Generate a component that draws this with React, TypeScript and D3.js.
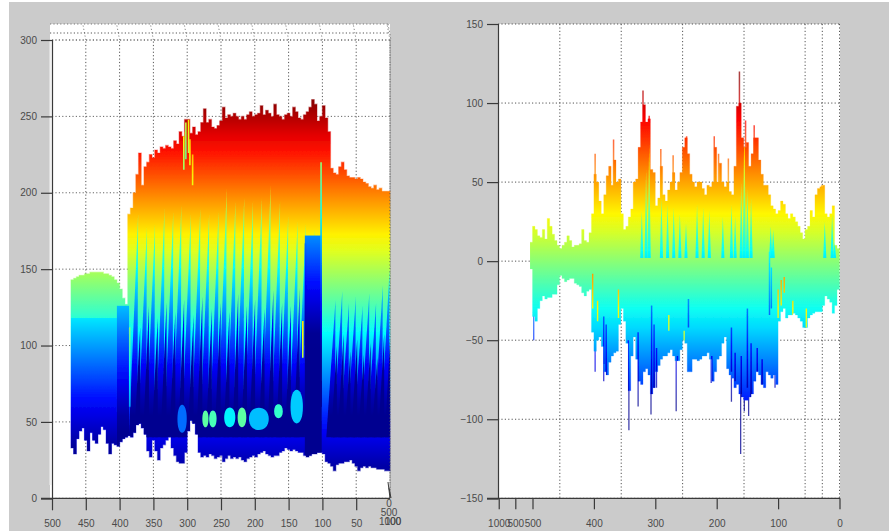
import React, { useEffect, useRef } from "react";
import * as d3 from "d3";

// left panel: envelope of the waterfall, one value every 4 x units from 472 down to 0
const leftX = d3.range(472, -1, -4);
const leftTop = [143,144,145,146,146,147,147,148,148,148,148,148,147,147,146,145,143,141,137,131,127,
  186,190,200,212,226,205,217,220,225,223,228,226,230,229,231,230,229,234,232,240,237,248,248,239,243,238,240,246,255,246,248,243,242,244,247,256,249,251,250,252,250,248,250,248,251,253,250,251,252,257,251,254,252,250,258,251,250,248,251,252,250,256,253,249,248,251,253,256,261,258,247,250,257,249,240,216,213,212,217,220,215,211,210,210,209,210,209,207,206,204,203,205,202,203,201,201,201,200];
const leftBottom = [33,29,39,44,46,38,31,43,38,36,42,47,45,36,29,36,35,34,37,39,40,41,40,43,48,49,46,42,31,27,38,31,25,33,35,38,40,33,28,24,23,23,30,44,51,49,42,30,27,28,27,29,28,26,27,28,24,26,28,26,27,26,27,25,24,26,27,28,27,29,30,31,29,28,27,28,28,30,31,33,32,31,32,31,30,30,28,27,28,29,29,30,30,29,24,23,21,18,22,23,23,24,24,25,23,21,18,20,21,20,21,20,20,19,19,19,18,18,28];

// long pale-green streaks running up the left panel
const leftStreakX = [380,367,355,341,328,316,302,288,275,261,249,236,223,210,197,184,170,158,144,132,119,88,78,68,58,48,38,28,18,8];
const leftStreakTop = [186,178,180,190,188,192,187,190,186,188,203,195,197,195,197,205,195,185,182,180,176,130,136,128,132,126,134,128,140,150];
// shorter, darker streaks between them
const leftDeepX = [374,361,348,335,322,309,295,282,268,255,242,229,216,204,190,177,164,151,138,83,73,63,53,43,33,23,13,3];
const leftDeepTop = [112,126,118,128,122,130,120,132,124,128,122,134,126,130,124,136,128,126,138,100,108,96,104,94,102,92,108,116];

// blocks with their own colour offset: plateau foot, the dip after it, the dark column
const leftBandStart = [472,404,126];
const leftBandEnd = [404,386,101];
const leftBandTop = [118,126,172];
const leftBandShift = [16,34,92];

// single coloured lines
const leftLineX = [305,302,298,296,102,125,129,292,385];
const leftLineTop = [240,246,248,235,220,167,116,225,112];
const leftLineBottom = [215,222,226,218,60,100,92,205,60];
const leftLineShift = [70,90,75,55,78,95,-60,40,-25];

// cyan patches near the bottom of the left panel
const leftPatchStart = [315,278,268,246,226,210,172,148];
const leftPatchEnd = [300,268,256,228,212,178,158,128];
const leftPatchTop = [62,58,58,60,60,60,62,72];
const leftPatchBottom = [42,46,46,46,46,44,52,48];
const leftPatchLevel = [72,130,125,105,130,92,120,95];

const leftTicksX = [500,450,400,350,300,250,200,150,100,50];
const leftTicksY = [0,50,100,150,200,250,300];
const leftGridX = [450,400,350,300,250,200,150,100,50,0];

// right panel: same layout, 504 down to 0
const rightX = d3.range(504, -1, -4);
const rightTop = [12,22,20,16,15,20,14,27,22,17,13,10,8,10,12,16,13,9,10,10,11,20,13,12,18,30,55,50,38,30,42,54,60,48,64,50,52,30,20,22,28,33,50,52,72,88,99,88,90,58,56,35,40,60,42,38,45,50,56,45,50,56,72,78,68,55,50,47,50,50,46,42,48,47,50,72,50,62,50,47,50,44,42,60,98,100,78,72,75,60,68,78,78,64,55,48,48,42,35,33,30,32,38,36,30,27,30,28,25,22,18,14,20,22,32,28,42,46,47,48,30,28,30,35,10,8,10];
const rightBottom = [-5,-35,-38,-30,-25,-22,-24,-23,-23,-21,-21,-15,-9,-11,-13,-12,-11,-11,-14,-15,-16,-20,-22,-19,-18,-45,-57,-50,-48,-54,-70,-72,-64,-60,-58,-57,-40,-30,-38,-52,-82,-60,-48,-62,-76,-78,-70,-68,-72,-84,-80,-70,-66,-62,-60,-60,-58,-56,-60,-63,-63,-56,-50,-52,-70,-70,-62,-62,-63,-62,-60,-60,-58,-62,-76,-70,-62,-60,-52,-48,-68,-72,-74,-80,-78,-84,-86,-88,-88,-86,-84,-76,-70,-72,-78,-80,-70,-72,-74,-72,-78,-38,-32,-30,-36,-34,-34,-33,-34,-36,-38,-42,-42,-36,-34,-33,-32,-32,-32,-28,-22,-24,-26,-33,-28,-18,-10];

// thin spikes reaching past the envelope
const rightSpikeUpX = [398,368,320,310,291,271,249,204,197,181,163,153,139,29];
const rightSpikeUpTop = [68,77,108,92,71,67,79,79,68,65,120,89,86,48];
const rightSpikeDownX = [398,384,343,328,307,298,266,209,176,161,155,148,105,498];
const rightSpikeDownBottom = [-70,-76,-107,-92,-97,-80,-95,-77,-89,-122,-95,-98,-80,-50];

// teal streaks in the upper half
const rightCoolX = [322,315,310,290,280,270,260,250,232,222,212,190,176,170,160,155,150,144,112,108,24,12,8];
const rightCoolTop = [32,58,74,40,36,34,30,24,36,34,32,28,36,28,50,88,46,40,22,20,25,30,12];
// blue lines in the lower half
const rightBlueX = [384,380,344,328,306,302,298,264,246,208,176,170,160,150,144,134,126,114,111];
const rightBlueTop = [-35,-40,-50,-45,-28,-40,-55,-60,-24,-60,-42,-58,-60,-30,-52,-55,-62,6,-4];
const rightBlueBottom = [-65,-72,-88,-80,-84,-86,-70,-92,-42,-76,-70,-76,-90,-80,-90,-70,-80,-34,-30];
// a few warm flecks among the cool ones
const rightWarmX = [402,394,360,278,253,100,95,90,76,54];
const rightWarmTop = [-8,-25,-18,-34,-44,-18,-12,-10,-25,-30];
const rightWarmBottom = [-30,-38,-36,-44,-54,-36,-28,-20,-36,-44];

const rightTicksY = [-150,-100,-50,0,50,100,150];
const rightTicksX = [0,100,200,300,400,500,528,555];
const rightTickLabels = ["0","100","200","300","400","500","500","1000"];
const rightGridX = [455.5,355.5,255.5,155.5,56,28,0];

const jetStops = [0, 0.125, 0.375, 0.625, 0.875, 1];
const jetColors = ["#000090", "#0000ff", "#00ffff", "#ffff00", "#ff0000", "#800000"];
const jet = d3.scaleLinear<string>().domain(jetStops).range(jetColors).clamp(true);

const font = "'Liberation Sans', Arial, sans-serif";
const axisGray = "#3a3a3a";
const labelGray = "#4a4a4a";

function addGradient(defs: any, id: string, y: any, vMin: number, vMax: number, lo: number, hi: number, shift: number) {
  const g = defs.append("linearGradient").attr("id", id)
    .attr("gradientUnits", "userSpaceOnUse")
    .attr("x1", 0).attr("x2", 0)
    .attr("y1", y(vMin)).attr("y2", y(vMax));
  d3.range(0, 1.001, 0.04).forEach((o) => {
    const v = vMin + o * (vMax - vMin);
    g.append("stop").attr("offset", o).attr("stop-color", jet((v - shift - lo) / (hi - lo)));
  });
}

function styleAxis(g: any) {
  g.selectAll("path,line").attr("stroke", axisGray).attr("stroke-width", 1.2);
  g.selectAll("text").attr("font-family", font).attr("font-size", 10).attr("fill", labelGray);
}

function wedge(x: any, y: any, cx: number, top: number, foot: number, halfWidth: number, lean: number) {
  const line = d3.line();
  return line([
    [x(cx) - halfWidth, y(foot)],
    [x(cx) + lean, y(top)],
    [x(cx) + halfWidth, y(foot)],
  ]);
}

export default function App() {
  const ref = useRef<SVGSVGElement>(null);

  useEffect(() => {
    const svg = d3.select(ref.current);
    svg.selectAll("*").remove();

    const defs = svg.append("defs");
    const blur = defs.append("filter").attr("id", "soft")
      .attr("x", 0).attr("y", 0).attr("width", 1).attr("height", 1);
    blur.append("feGaussianBlur").attr("stdDeviation", 0.4);

    // page
    svg.append("rect").attr("width", 889).attr("height", 531).attr("fill", "#ffffff");
    svg.append("rect").attr("x", 9).attr("y", 2).attr("width", 880).attr("height", 529).attr("fill", "#cbcbcb");

    // ---------- left panel ----------
    const lx = d3.scaleLinear().domain([500, 0]).range([52, 390]);
    const ly = d3.scaleLinear().domain([0, 300]).range([498.3, 40]);
    const lLo = 15, lHi = 262;

    addGradient(defs, "lBase", ly, 0, 270, lLo, lHi, 0);
    addGradient(defs, "lStreak", ly, 0, 270, lLo, lHi, 42);
    addGradient(defs, "lDeep", ly, 0, 270, lLo, lHi, 68);
    leftBandShift.forEach((s, i) => addGradient(defs, `lBand${i}`, ly, 0, 270, lLo, lHi, s));
    leftLineShift.forEach((s, i) => addGradient(defs, `lLine${i}`, ly, 0, 270, lLo, lHi, s));

    const lArea = d3.area<number>()
      .curve(d3.curveStepAfter)
      .x((d) => lx(d))
      .y0((_, i) => ly(leftBottom[i]))
      .y1((_, i) => ly(leftTop[i]));

    defs.append("clipPath").attr("id", "lClip").append("path").attr("d", lArea(leftX));

    const lg = svg.append("g");
    // white box including the slanted 3d top
    lg.append("rect").attr("x", 50).attr("y", 24).attr("width", 340).attr("height", 474.3).attr("fill", "#ffffff");

    const grid = lg.append("g").attr("fill", "none").attr("stroke", "#555").attr("stroke-dasharray", "1.2 2.2");
    leftTicksY.forEach((v) => {
      grid.append("line").attr("x1", lx(500)).attr("x2", lx(0)).attr("y1", ly(v)).attr("y2", ly(v))
        .attr("stroke", v === 300 ? "#222" : "#666");
    });
    leftGridX.forEach((v) => {
      grid.append("line").attr("x1", lx(v)).attr("x2", lx(v)).attr("y1", ly(0)).attr("y2", 40);
      grid.append("line").attr("x1", lx(v)).attr("x2", lx(v) - 3).attr("y1", 40).attr("y2", 24).attr("stroke", "#888");
    });
    // the two dotted edges of the 3d box top
    grid.append("line").attr("x1", 50).attr("x2", 388).attr("y1", 24).attr("y2", 24).attr("stroke", "#777");
    grid.append("line").attr("x1", 50).attr("x2", 389).attr("y1", 33).attr("y2", 33);
    grid.append("line").attr("x1", 388).attr("x2", lx(0) + 1).attr("y1", 24).attr("y2", 40).attr("stroke", "#777");

    const lMarks = lg.append("g").attr("filter", "url(#soft)");
    lMarks.append("path").attr("d", lArea(leftX))
      .attr("fill", "url(#lBase)").attr("stroke", "url(#lBase)").attr("stroke-opacity", 0.35).attr("stroke-width", 1.2);

    const lInner = lMarks.append("g").attr("clip-path", "url(#lClip)");
    leftStreakX.forEach((x0, i) => {
      lInner.append("path").attr("d", wedge(lx, ly, x0, leftStreakTop[i], 40, 4.2, 5))
        .attr("fill", "url(#lStreak)");
    });
    leftDeepX.forEach((x0, i) => {
      lInner.append("path").attr("d", wedge(lx, ly, x0, leftDeepTop[i], 40, 3, 3))
        .attr("fill", "url(#lDeep)");
    });
    leftBandStart.forEach((x0, i) => {
      lInner.append("rect")
        .attr("x", lx(x0)).attr("width", lx(leftBandEnd[i]) - lx(x0))
        .attr("y", ly(leftBandTop[i])).attr("height", ly(0) - ly(leftBandTop[i]))
        .attr("fill", `url(#lBand${i})`);
    });
    // blue floor under every streak
    leftPatchStart.forEach((x0, i) => {
      const blob = d3.line().curve(d3.curveBasisClosed)([
        [lx(x0), ly(leftPatchBottom[i])],
        [lx(x0), ly(leftPatchTop[i])],
        [lx(leftPatchEnd[i]), ly(leftPatchTop[i])],
        [lx(leftPatchEnd[i]), ly(leftPatchBottom[i])],
      ]);
      lInner.append("path").attr("d", blob).attr("fill", jet((leftPatchLevel[i] - lLo) / (lHi - lLo)));
    });
    leftLineX.forEach((x0, i) => {
      lInner.append("line")
        .attr("x1", lx(x0)).attr("x2", lx(x0) + 0.01)
        .attr("y1", ly(leftLineBottom[i])).attr("y2", ly(leftLineTop[i]))
        .attr("stroke", `url(#lLine${i})`).attr("stroke-width", 1.6);
    });

    // right edge dotted
    lg.append("line").attr("x1", lx(0)).attr("x2", lx(0)).attr("y1", 40).attr("y2", 498)
      .attr("stroke", "#555").attr("stroke-dasharray", "1.2 2.2");

    // faint white sliver beside the y axis
    lg.append("line").attr("x1", 50.5).attr("x2", 50.5).attr("y1", 40).attr("y2", 485)
      .attr("stroke", "#f1f1f1").attr("stroke-width", 2);

    const lyAxis = lg.append("g").attr("transform", "translate(52,0)")
      .call(d3.axisLeft(ly).tickValues(leftTicksY).tickSize(11).tickPadding(4).tickFormat(d3.format("d") as any));
    styleAxis(lyAxis);

    const lxAxis = lg.append("g").attr("transform", "translate(0,498.3)")
      .call(d3.axisBottom(lx).tickValues(leftTicksX).tickSize(12).tickPadding(10).tickFormat(d3.format("d") as any));
    styleAxis(lxAxis);
    lxAxis.select("path").attr("d", "M41,0H390");

    // the collapsed third axis in the corner
    const corner = lg.append("g").attr("font-family", font).attr("font-size", 10)
      .attr("fill", labelGray).attr("text-anchor", "middle");
    corner.append("path").attr("d", "M388,482L390,498M389,488L391,498").attr("stroke", axisGray).attr("fill", "none");
    corner.append("text").attr("x", 389).attr("y", 507).text("0");
    corner.append("text").attr("x", 389).attr("y", 516).text("500");
    corner.append("text").attr("x", 390).attr("y", 525).text("1000");
    corner.append("text").attr("x", 393).attr("y", 525).text("100");

    // ---------- right panel ----------
    const rx = d3.scaleLinear().domain([500, 0]).range([532.5, 839.5]);
    const ry = d3.scaleLinear().domain([-150, 150]).range([498.3, 24]);
    const rLo = -125, rHi = 120;

    addGradient(defs, "rBase", ry, -150, 150, rLo, rHi, 0);
    addGradient(defs, "rCool", ry, -150, 150, rLo, rHi, 38);
    addGradient(defs, "rBlue", ry, -150, 150, rLo, rHi, 35);
    addGradient(defs, "rWarm", ry, -150, 150, rLo, rHi, -60);

    const rArea = d3.area<number>()
      .curve(d3.curveStepAfter)
      .x((d) => rx(d))
      .y0((_, i) => ry(rightBottom[i]))
      .y1((_, i) => ry(rightTop[i]));

    defs.append("clipPath").attr("id", "rClip").append("path").attr("d", rArea(rightX));

    const rg = svg.append("g");
    rg.append("rect").attr("x", 498).attr("y", 24).attr("width", 342).attr("height", 474.3).attr("fill", "#ffffff");

    const rGrid = rg.append("g").attr("stroke", "#555").attr("stroke-dasharray", "1.2 2.2");
    rightTicksY.forEach((v) => {
      rGrid.append("line").attr("x1", 498).attr("x2", 840).attr("y1", ry(v)).attr("y2", ry(v));
    });
    rightGridX.forEach((v) => {
      rGrid.append("line").attr("x1", rx(v)).attr("x2", rx(v)).attr("y1", 24).attr("y2", 498.3);
    });

    const rMarks = rg.append("g").attr("filter", "url(#soft)");
    rightSpikeUpX.forEach((x0, i) => {
      rMarks.append("line").attr("x1", rx(x0)).attr("x2", rx(x0) + 0.01)
        .attr("y1", ry(0)).attr("y2", ry(rightSpikeUpTop[i]))
        .attr("stroke", "url(#rBase)").attr("stroke-width", 1.5).attr("stroke-opacity", 0.75);
    });
    rightSpikeDownX.forEach((x0, i) => {
      rMarks.append("line").attr("x1", rx(x0)).attr("x2", rx(x0) + 0.01)
        .attr("y1", ry(0)).attr("y2", ry(rightSpikeDownBottom[i]))
        .attr("stroke", "url(#rBlue)").attr("stroke-width", 1.3).attr("stroke-opacity", 0.75);
    });
    rMarks.append("path").attr("d", rArea(rightX))
      .attr("fill", "url(#rBase)").attr("stroke", "url(#rBase)").attr("stroke-opacity", 0.3).attr("stroke-width", 0.8);

    const rInner = rMarks.append("g").attr("clip-path", "url(#rClip)");
    rightCoolX.forEach((x0, i) => {
      rInner.append("path").attr("d", wedge(rx, ry, x0, rightCoolTop[i], 2, 1.6, 0))
        .attr("fill", "url(#rCool)");
    });
    rightBlueX.forEach((x0, i) => {
      rInner.append("line").attr("x1", rx(x0)).attr("x2", rx(x0) + 0.01)
        .attr("y1", ry(rightBlueTop[i])).attr("y2", ry(rightBlueBottom[i]))
        .attr("stroke", "url(#rBlue)").attr("stroke-width", 1.5);
    });
    rightWarmX.forEach((x0, i) => {
      rInner.append("line").attr("x1", rx(x0)).attr("x2", rx(x0) + 0.01)
        .attr("y1", ry(rightWarmTop[i])).attr("y2", ry(rightWarmBottom[i]))
        .attr("stroke", "url(#rWarm)").attr("stroke-width", 1.4);
    });

    const ryAxis = rg.append("g").attr("transform", "translate(498,0)")
      .call(d3.axisLeft(ry).tickValues(rightTicksY).tickSize(11).tickPadding(4).tickFormat(d3.format("d") as any));
    styleAxis(ryAxis);

    const rxAxis = rg.append("g").attr("transform", "translate(0,498.3)")
      .call(d3.axisBottom(rx).tickValues(rightTicksX).tickSize(11).tickPadding(11)
        .tickFormat((_, i) => rightTickLabels[i]));
    styleAxis(rxAxis);
    rxAxis.select("path").attr("d", "M487,0H840");
  }, []);

  return (
    <svg
      ref={ref}
      width={889}
      height={531}
      style={{ position: "absolute", left: 0, top: 0, display: "block" }}
    />
  );
}
